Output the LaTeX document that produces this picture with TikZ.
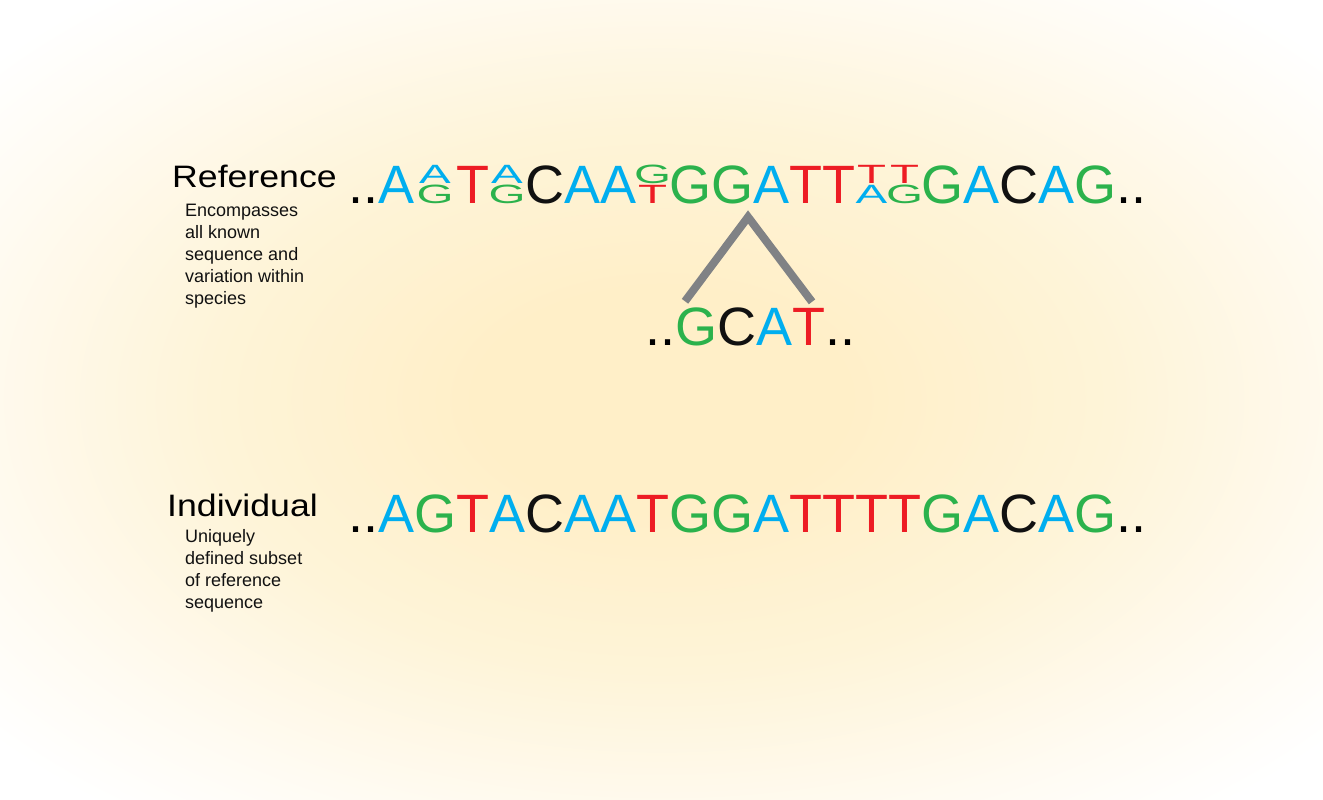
\documentclass[tikz,border=0pt]{standalone}
\usepackage{fontspec}
\setmainfont{Liberation Sans}
\usepackage{xcolor}
\usepackage{graphicx}
\usepackage{tikz}
\definecolor{nucA}{HTML}{00AEEF}
\definecolor{nucG}{HTML}{2BB24C}
\definecolor{nucT}{HTML}{ED1C24}
\definecolor{nucC}{HTML}{111111}
\definecolor{gapgray}{HTML}{808285}
\definecolor{bgin}{HTML}{FFEFC8}
\definecolor{bgmid}{HTML}{FEF4D8}
\definecolor{bgrim}{HTML}{FFFBF2}
\pgfdeclareradialshading{glow}{\pgfpoint{0bp}{0bp}}{color(0bp)=(bgin); color(7bp)=(bgin); color(17bp)=(bgmid); color(27bp)=(bgrim); color(33bp)=(white); color(50bp)=(white)}
\tikzstyle{nuc}=[inner sep=0pt,outer sep=0pt,anchor=base west,font=\fontsize{54}{54}\selectfont]
\tikzstyle{title}=[inner sep=0pt,anchor=base west,font=\fontsize{31}{31}\selectfont]
\tikzstyle{note}=[inner sep=0pt,anchor=north west,align=left,text=nucC,font=\fontsize{18}{22}\selectfont]
\tikzstyle{insertion}=[draw=gapgray,line width=8pt,line join=miter]
\newcommand{\bA}{\textcolor{nucA}{A}}
\newcommand{\bG}{\textcolor{nucG}{G}}
\newcommand{\bT}{\textcolor{nucT}{T}}
\newcommand{\bC}{\textcolor{nucC}{C}}
% two variant letters squeezed into the width of one
\newcommand{\stk}[3]{\setbox0\hbox{#1}\vbox{\offinterlineskip
  \hbox to \wd0{\hss\scalebox{0.88}[0.49]{#2}\hss}\kern1pt
  \hbox to \wd0{\hss\scalebox{0.88}[0.49]{#3}\hss}}}

\begin{document}
\begin{tikzpicture}[x=1pt,y=-1pt]
    \shade[shading=glow] (0,0) rectangle (1323,800);
    % labels
    \node [title] (reftitle) at (172,187) {\scalebox{1.15}[1]{Reference}};
    \node [note] (refnote) at (185,204) {Encompasses\\all known\\sequence and\\variation within\\species};
    \node [title] (indtitle) at (167,516) {\scalebox{1.15}[1]{Individual}};
    \node [note] (indnote) at (185,529) {Uniquely\\defined subset\\of reference\\sequence};
    % reference sequence
    \node [nuc] (ref0) at (348,203) {..};
    \foreach \n [count=\i] in {\bA,\stk{G}{\bA}{\bG},\bT,\stk{A}{\bA}{\bG},\bC,\bA,\bA,\stk{T}{\bG}{\bT},\bG,\bG,\bA,\bT,\bT,\stk{T}{\bT}{\bA},\stk{T}{\bT}{\bG},\bG,\bA,\bC,\bA,\bG}{
        \pgfmathtruncatemacro\j{\i-1}
        \node [nuc] (ref\i) at (ref\j.base east) {\n};
    }
    \node [nuc] (ref21) at (ref20.base east) {..};
    % insertion
    \node [nuc] (ins0) at (645,345) {..};
    \foreach \n [count=\i] in {\bG,\bC,\bA,\bT}{
        \pgfmathtruncatemacro\j{\i-1}
        \node [nuc] (ins\i) at (ins\j.base east) {\n};
    }
    \node [nuc] (ins5) at (ins4.base east) {..};
    \coordinate (tip) at ([xshift=-5pt,yshift=-14pt]ref10.base east);
    \draw [insertion] ([xshift=-11pt,yshift=6pt]ins1.north) -- (tip) -- ([xshift=3.5pt,yshift=6pt]ins4.north);
    % individual sequence
    \node [nuc] (ind0) at (348,532) {..};
    \foreach \n [count=\i] in {\bA,\bG,\bT,\bA,\bC,\bA,\bA,\bT,\bG,\bG,\bA,\bT,\bT,\bT,\bT,\bG,\bA,\bC,\bA,\bG}{
        \pgfmathtruncatemacro\j{\i-1}
        \node [nuc] (ind\i) at (ind\j.base east) {\n};
    }
    \node [nuc] (ind21) at (ind20.base east) {..};
\end{tikzpicture}
\end{document}
